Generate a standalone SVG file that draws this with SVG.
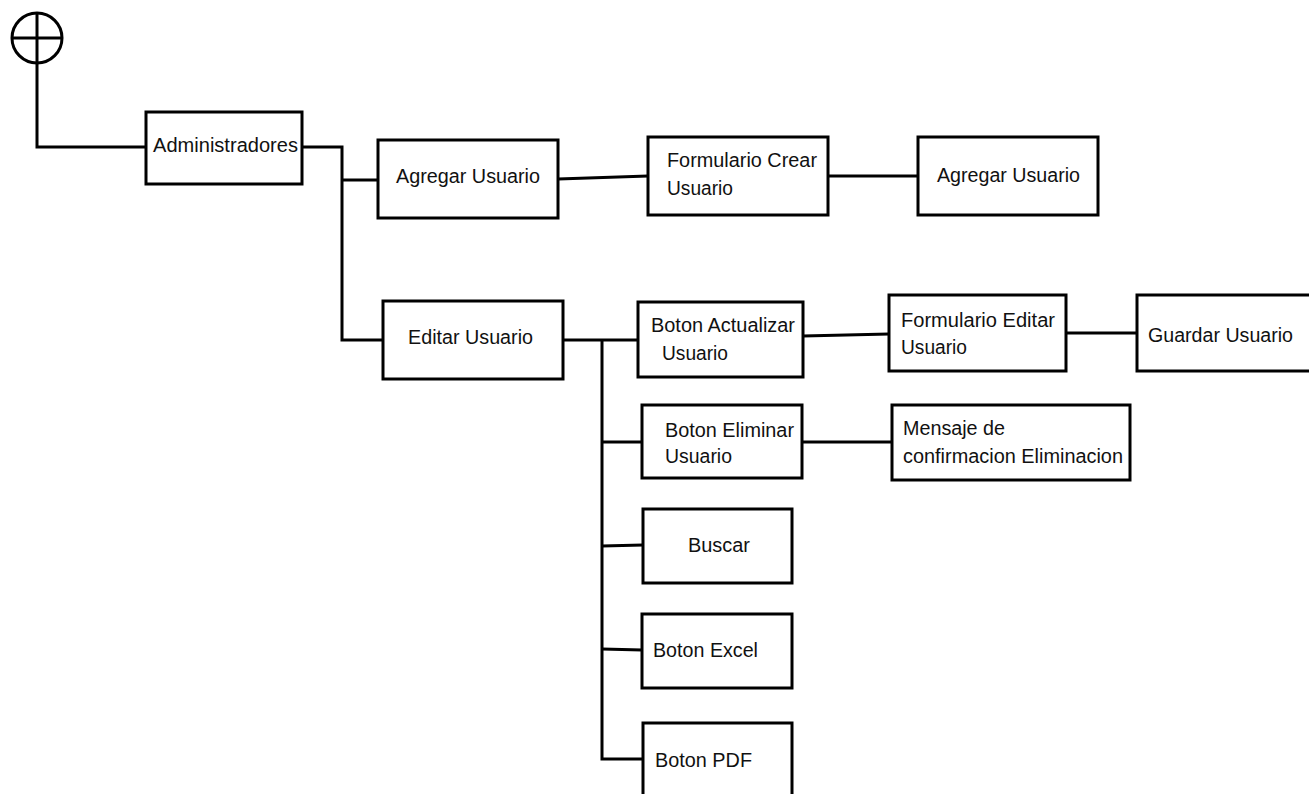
<svg xmlns="http://www.w3.org/2000/svg" width="1309" height="794" viewBox="0 0 1309 794">
  <style>
    .box { fill: #ffffff; stroke: #000000; stroke-width: 3; }
    .wire { fill: none; stroke: #000000; stroke-width: 3; stroke-linejoin: miter; }
    .lbl { font-family: "Liberation Sans", Arial, sans-serif; font-size: 20px; fill: #111111; }
  </style>
  <rect width="1309" height="794" fill="#ffffff"/>

  <!-- start symbol -->
  <g id="start">
    <circle cx="37" cy="38" r="25" class="wire"/>
    <line x1="37" y1="12" x2="37" y2="64" class="wire"/>
    <line x1="11" y1="38" x2="62" y2="38" class="wire"/>
  </g>

  <!-- connectors -->
  <g id="connectors" class="wire">
    <polyline points="37,64 37,147 147,147"/>
    <polyline points="302,147 342,147 342,340 383,340"/>
    <line x1="342" y1="180" x2="378" y2="180"/>
    <line x1="558" y1="179" x2="648" y2="176"/>
    <line x1="828" y1="176" x2="918" y2="176"/>
    <line x1="563" y1="340" x2="638" y2="340"/>
    <polyline points="602,340 602,759 643,759"/>
    <line x1="803" y1="336" x2="889" y2="334"/>
    <line x1="1066" y1="333" x2="1137" y2="333"/>
    <line x1="602" y1="442" x2="642" y2="442"/>
    <line x1="802" y1="442" x2="892" y2="442"/>
    <line x1="602" y1="546" x2="643" y2="545"/>
    <line x1="602" y1="649" x2="642" y2="650"/>
  </g>

  <g id="administradores">
    <rect x="146" y="112" width="156" height="72" class="box"/>
    <text x="153" y="152" class="lbl" textLength="145" lengthAdjust="spacingAndGlyphs">Administradores</text>
  </g>

  <g id="agregar-usuario">
    <rect x="378" y="140" width="180" height="78" class="box"/>
    <text x="396" y="183" class="lbl" textLength="144" lengthAdjust="spacingAndGlyphs">Agregar Usuario</text>
  </g>

  <g id="formulario-crear">
    <rect x="648" y="137" width="180" height="78" class="box"/>
    <text x="667" y="167" class="lbl" textLength="150" lengthAdjust="spacingAndGlyphs">Formulario Crear</text>
    <text x="667" y="195" class="lbl" textLength="66" lengthAdjust="spacingAndGlyphs">Usuario</text>
  </g>

  <g id="agregar-usuario-final">
    <rect x="918" y="137" width="180" height="78" class="box"/>
    <text x="937" y="182" class="lbl" textLength="143" lengthAdjust="spacingAndGlyphs">Agregar Usuario</text>
  </g>

  <g id="editar-usuario">
    <rect x="383" y="301" width="180" height="78" class="box"/>
    <text x="408" y="344" class="lbl" textLength="125" lengthAdjust="spacingAndGlyphs">Editar Usuario</text>
  </g>

  <g id="boton-actualizar">
    <rect x="638" y="302" width="165" height="75" class="box"/>
    <text x="651" y="332" class="lbl" textLength="144" lengthAdjust="spacingAndGlyphs">Boton Actualizar</text>
    <text x="662" y="360" class="lbl" textLength="66" lengthAdjust="spacingAndGlyphs">Usuario</text>
  </g>

  <g id="formulario-editar">
    <rect x="889" y="295" width="177" height="76" class="box"/>
    <text x="901" y="327" class="lbl" textLength="154" lengthAdjust="spacingAndGlyphs">Formulario Editar</text>
    <text x="901" y="354" class="lbl" textLength="66" lengthAdjust="spacingAndGlyphs">Usuario</text>
  </g>

  <g id="guardar-usuario">
    <rect x="1137" y="295" width="180" height="76" class="box"/>
    <text x="1148" y="342" class="lbl" textLength="145" lengthAdjust="spacingAndGlyphs">Guardar Usuario</text>
  </g>

  <g id="boton-eliminar">
    <rect x="642" y="405" width="160" height="73" class="box"/>
    <text x="665" y="437" class="lbl" textLength="129" lengthAdjust="spacingAndGlyphs">Boton Eliminar</text>
    <text x="665" y="463" class="lbl" textLength="67" lengthAdjust="spacingAndGlyphs">Usuario</text>
  </g>

  <g id="mensaje-confirmacion">
    <rect x="892" y="405" width="238" height="75" class="box"/>
    <text x="903" y="435" class="lbl" textLength="102" lengthAdjust="spacingAndGlyphs">Mensaje de</text>
    <text x="903" y="463" class="lbl" textLength="220" lengthAdjust="spacingAndGlyphs">confirmacion Eliminacion</text>
  </g>

  <g id="buscar">
    <rect x="643" y="509" width="149" height="74" class="box"/>
    <text x="688" y="552" class="lbl" textLength="62" lengthAdjust="spacingAndGlyphs">Buscar</text>
  </g>

  <g id="boton-excel">
    <rect x="642" y="614" width="150" height="74" class="box"/>
    <text x="653" y="657" class="lbl" textLength="105" lengthAdjust="spacingAndGlyphs">Boton Excel</text>
  </g>

  <g id="boton-pdf">
    <rect x="643" y="723" width="149" height="80" class="box"/>
    <text x="655" y="767" class="lbl" textLength="97" lengthAdjust="spacingAndGlyphs">Boton PDF</text>
  </g>
</svg>
